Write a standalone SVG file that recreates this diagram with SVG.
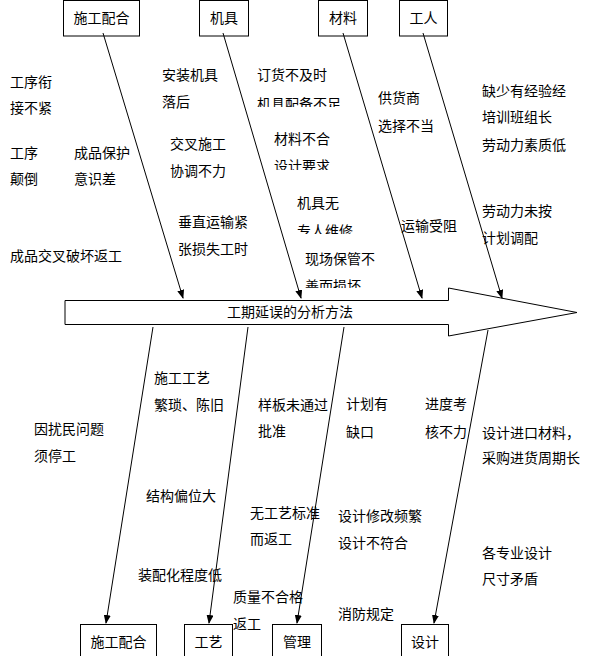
<svg xmlns="http://www.w3.org/2000/svg" width="591" height="656" viewBox="0 0 591 656">
<style>
text{font-family:"Noto Sans CJK SC","Noto Sans CJK JP",sans-serif;font-size:14px;fill:#000}
.c{text-anchor:middle}
.box{fill:#fff;stroke:#000;stroke-width:1}
.ln{stroke:#000;stroke-width:1;fill:none}
</style>
<defs>
<marker id="ah" markerUnits="userSpaceOnUse" markerWidth="9" markerHeight="7" refX="8" refY="3.5" orient="auto">
<path d="M0,0 L9,3.5 L0,7 z" fill="#000"/>
</marker>
<clipPath id="k1"><rect x="250" y="90" width="100" height="17"/></clipPath>
<clipPath id="k2"><rect x="265" y="155" width="100" height="15"/></clipPath>
<clipPath id="k3"><rect x="290" y="218" width="100" height="16"/></clipPath>
<clipPath id="k4"><rect x="300" y="275" width="100" height="13"/></clipPath>
</defs>
<rect width="591" height="656" fill="#fff"/>

<g id="spine">
<polygon class="box" points="65,300.5 448.5,300.5 448.5,288 577,312.5 448.5,336 448.5,324.5 65,324.5"/>
<text class="c" x="290" y="317">工期延误的分析方法</text>
</g>

<g id="top-shigong"><rect class="box" x="63.5" y="0.5" width="76" height="35.5"/><text class="c" x="101.5" y="23">施工配合</text></g>
<g id="top-jiju"><rect class="box" x="199.5" y="0.5" width="49" height="35.5"/><text class="c" x="224" y="23">机具</text></g>
<g id="top-cailiao"><rect class="box" x="318.5" y="0.5" width="49" height="35.5"/><text class="c" x="343" y="23">材料</text></g>
<g id="top-gongren"><rect class="box" x="399.5" y="0.5" width="48" height="35.5"/><text class="c" x="423.5" y="23">工人</text></g>

<g id="bot-shigong"><rect class="box" x="80.5" y="624.5" width="76" height="40"/><text class="c" x="118.5" y="647">施工配合</text></g>
<g id="bot-gongyi"><rect class="box" x="184.5" y="624.5" width="48" height="40"/><text class="c" x="208.5" y="647">工艺</text></g>
<g id="bot-guanli"><rect class="box" x="272.5" y="624.5" width="49" height="40"/><text class="c" x="297" y="647">管理</text></g>
<g id="bot-sheji"><rect class="box" x="401.5" y="624.5" width="47" height="40"/><text class="c" x="425" y="647">设计</text></g>

<g id="connectors">
<line class="ln" x1="103" y1="33" x2="183" y2="298" marker-end="url(#ah)"/>
<line class="ln" x1="223" y1="33" x2="301" y2="298" marker-end="url(#ah)"/>
<line class="ln" x1="343" y1="33" x2="422" y2="298" marker-end="url(#ah)"/>
<line class="ln" x1="423" y1="33" x2="502" y2="298" marker-end="url(#ah)"/>
<line class="ln" x1="153" y1="327" x2="106" y2="623" marker-end="url(#ah)"/>
<line class="ln" x1="248" y1="327" x2="209" y2="623" marker-end="url(#ah)"/>
<line class="ln" x1="344" y1="327" x2="297" y2="623" marker-end="url(#ah)"/>
<line class="ln" x1="488" y1="330" x2="434" y2="623" marker-end="url(#ah)"/>
</g>

<g id="labels">
<text x="10" y="87">工序衔</text>
<text x="10" y="113">接不紧</text>
<text x="162" y="80">安装机具</text>
<text x="162" y="107">落后</text>
<text x="257" y="80">订货不及时</text>
<text x="257" y="109" clip-path="url(#k1)">机具配备不足</text>
<text x="274" y="144">材料不合</text>
<text x="274" y="171" clip-path="url(#k2)">设计要求</text>
<text x="170" y="149">交叉施工</text>
<text x="170" y="176">协调不力</text>
<text x="10" y="158">工序</text>
<text x="10" y="184">颠倒</text>
<text x="74" y="158">成品保护</text>
<text x="74" y="184">意识差</text>
<text x="178" y="227">垂直运输紧</text>
<text x="178" y="254">张损失工时</text>
<text x="10" y="261">成品交叉破坏返工</text>
<text x="297" y="208">机具无</text>
<text x="297" y="236" clip-path="url(#k3)">专人维修</text>
<text x="305" y="264">现场保管不</text>
<text x="305" y="291" clip-path="url(#k4)">善而损坏</text>
<text x="378" y="103">供货商</text>
<text x="378" y="131">选择不当</text>
<text x="401" y="231">运输受阻</text>
<text x="482" y="96">缺少有经验经</text>
<text x="482" y="122">培训班组长</text>
<text x="482" y="150">劳动力素质低</text>
<text x="482" y="216">劳动力未按</text>
<text x="482" y="243">计划调配</text>

<text x="154" y="383">施工工艺</text>
<text x="154" y="410">繁琐、陈旧</text>
<text x="34" y="434">因扰民问题</text>
<text x="34" y="461">须停工</text>
<text x="258" y="410">样板未通过</text>
<text x="258" y="436">批准</text>
<text x="346" y="409">计划有</text>
<text x="346" y="437">缺口</text>
<text x="425" y="409">进度考</text>
<text x="425" y="437">核不力</text>
<text x="482" y="438">设计进口材料，</text>
<text x="482" y="463">采购进货周期长</text>
<text x="146" y="501">结构偏位大</text>
<text x="250" y="518">无工艺标准</text>
<text x="250" y="544">而返工</text>
<text x="138" y="580">装配化程度低</text>
<text x="233" y="602">质量不合格</text>
<text x="233" y="629">返工</text>
<text x="338" y="521">设计修改频繁</text>
<text x="338" y="548">设计不符合</text>
<text x="482" y="558">各专业设计</text>
<text x="482" y="584">尺寸矛盾</text>
<text x="338" y="619">消防规定</text>
</g>
</svg>
